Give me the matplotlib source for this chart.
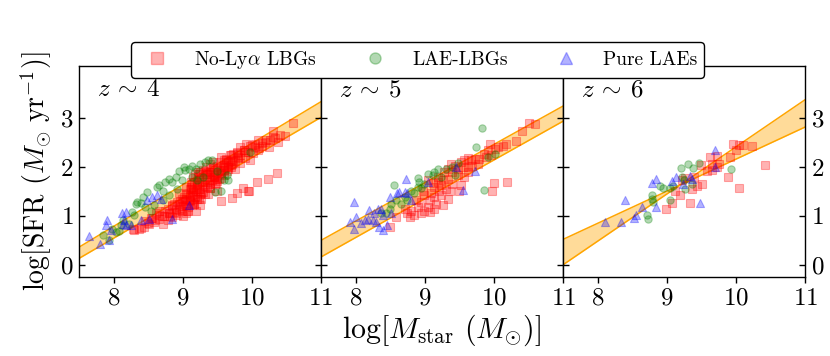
import matplotlib
matplotlib.use("Agg")
import matplotlib.pyplot as plt
import numpy as np
from matplotlib.lines import Line2D

plt.rcParams['font.family'] = ['cmr10', 'DejaVu Serif']
plt.rcParams['mathtext.fontset'] = 'cm'
plt.rcParams['axes.formatter.use_mathtext'] = True

# ---------------- data ----------------
panel_labels = [r"$z\:\sim\:4$", r"$z\:\sim\:5$", r"$z\:\sim\:6$"]
legend_labels = [r"No-Ly$\alpha$ LBGs", "LAE-LBGs", "Pure LAEs"]
x_ticks = [8, 9, 10, 11]
y_ticks = [0, 1, 2, 3]

band_x = [7.5, 11.0]
z4_band_a = [0.36, 3.34]
z4_band_b = [0.13, 3.02]
z5_band_a = [0.50, 3.25]
z5_band_b = [0.16, 2.94]
z6_band_a = [0.52, 2.82]
z6_band_b = [0.00, 3.38]

# z~4
z4_red_x = [8.30, 8.37, 8.44, 8.51, 8.58, 8.66, 8.73, 8.80, 8.87, 8.95, 8.71, 8.78, 8.85, 8.92, 8.99,
            9.04, 9.09, 9.14, 9.19, 9.21, 9.24, 9.24, 9.07, 8.99, 8.92, 8.85, 8.78, 8.61, 8.54, 8.46,
            9.14, 9.19, 9.12, 9.16, 9.04, 9.21, 8.95, 8.66, 9.04, 8.28, 8.40,
            10.59, 10.31, 10.41, 10.48, 10.33, 10.38, 10.26, 10.19, 10.09, 10.14, 10.04, 10.25, 9.97, 9.92,
            9.83, 9.88, 9.95, 10.02, 10.09, 9.78, 9.73, 9.68, 9.83, 9.90, 9.97, 9.63, 9.59, 9.54, 9.76,
            9.83, 9.71, 9.49, 9.44, 9.39, 9.59, 9.66, 9.76, 9.54, 9.39, 9.32, 9.25, 9.18, 9.47, 9.35,
            9.27, 9.20, 9.13, 9.42, 9.52, 9.32, 9.23, 9.15, 9.39, 9.27, 9.18, 9.11, 9.25, 9.15, 9.49,
            9.47, 9.59, 10.37, 10.24, 10.08, 9.87, 9.95, 9.79, 9.71, 9.55, 9.96,
            9.05, 9.10, 9.20, 9.30, 9.35, 9.45, 9.50, 9.55, 9.60, 9.65, 9.00, 9.10, 9.25, 9.35, 9.40,
            9.30, 9.40, 9.50, 9.60, 9.70, 9.15, 9.22, 9.28, 9.33, 9.45, 9.02, 9.08, 8.97, 9.12, 9.38,
            9.44, 9.56, 9.62, 9.70, 9.80, 9.88, 10.00, 10.10, 10.20, 9.36, 9.26, 9.17, 9.06, 8.90, 8.82,
            8.50, 8.60, 8.70, 8.80, 8.90, 8.55, 8.65, 8.75, 8.85, 8.95, 9.00, 9.05, 9.10, 9.15, 9.20,
            9.25, 9.30, 9.35, 9.40, 9.45, 9.50, 9.55, 9.60, 9.65, 9.70, 9.00, 9.08, 9.16, 9.24, 9.32,
            9.40, 9.48, 9.56, 9.64, 9.72, 9.80, 9.12, 9.22, 9.34, 9.46, 9.58, 9.68, 9.78, 9.90, 10.05,
            10.15, 10.30, 8.88, 8.96, 9.03]
z4_red_y = [0.71, 0.74, 0.77, 0.83, 0.88, 0.94, 0.99, 1.05, 1.08, 1.13, 0.84, 0.91, 0.98, 1.01, 1.11,
            1.22, 1.32, 1.42, 1.52, 1.63, 1.73, 1.86, 1.46, 1.35, 1.28, 1.22, 1.15, 1.05, 0.96, 0.90,
            1.22, 1.11, 1.56, 1.69, 1.59, 1.35, 1.46, 1.11, 1.05, 0.73, 0.75,
            2.90, 2.74, 2.65, 2.63, 2.60, 2.51, 2.56, 2.51, 2.56, 2.44, 2.41, 2.41, 2.44, 2.48,
            2.41, 2.34, 2.31, 2.29, 2.34, 2.31, 2.27, 2.24, 2.24, 2.19, 2.14, 2.17, 2.14, 2.10, 2.14,
            2.08, 2.06, 2.03, 2.00, 2.07, 2.00, 1.97, 1.97, 1.93, 1.90, 1.93, 1.90, 1.86, 1.83, 1.80,
            1.76, 1.69, 1.66, 1.73, 1.76, 1.63, 1.56, 1.52, 1.58, 1.46, 1.39, 1.32, 1.22, 1.28, 1.52,
            1.66, 1.83, 1.88, 1.75, 1.69, 1.58, 1.51, 1.46, 1.37, 1.31, 1.51,
            1.45, 1.55, 1.60, 1.70, 1.85, 1.80, 1.95, 1.88, 2.05, 2.10, 1.30, 1.40, 1.45, 1.60, 1.75,
            1.95, 1.85, 1.75, 1.95, 2.00, 1.80, 1.90, 1.65, 2.00, 1.90, 1.38, 1.18, 1.20, 1.70, 1.90,
            2.10, 2.20, 2.15, 2.25, 2.20, 2.35, 2.45, 2.40, 2.55, 1.45, 1.35, 1.25, 1.10, 1.05, 1.00,
            0.85, 0.92, 1.00, 1.05, 1.15, 0.95, 1.02, 1.10, 1.20, 1.25, 1.20, 1.35, 1.30, 1.50, 1.40,
            1.55, 1.50, 1.70, 1.65, 1.80, 1.72, 1.85, 1.95, 2.00, 2.05, 1.00, 1.10, 1.25, 1.35, 1.45,
            1.58, 1.68, 1.78, 1.92, 2.12, 2.18, 1.60, 1.80, 1.88, 1.98, 2.02, 2.12, 2.28, 2.30, 2.48,
            2.50, 2.62, 1.25, 1.30, 1.28]
z4_green_x = [9.02, 9.09, 8.95, 8.90, 8.80, 8.85, 8.75, 8.66, 8.63, 8.71, 8.49, 8.42, 8.34, 8.32, 8.39,
              8.46, 8.54, 8.27, 8.30, 8.13, 8.10, 7.98, 8.03, 8.08, 7.93, 7.84, 8.22, 8.58, 8.71, 8.80,
              8.92, 8.99, 9.14, 9.19, 9.13, 9.32, 9.25, 9.37, 9.42, 9.49, 9.59, 9.56, 9.47, 9.66, 9.64,
              9.30, 9.20, 9.97, 9.03]
z4_green_y = [2.00, 1.97, 1.93, 1.79, 1.76, 1.69, 1.69, 1.63, 1.59, 1.52, 1.49, 1.39, 1.28, 1.25, 1.26,
              1.18, 1.11, 1.08, 1.01, 0.92, 0.81, 0.74, 0.67, 0.70, 0.50, 0.60, 0.84, 1.22, 1.32, 1.42,
              1.56, 1.73, 1.79, 1.97, 2.03, 2.10, 2.07, 2.14, 2.15, 1.93, 1.73, 1.52, 1.49, 1.74, 1.83,
              1.80, 1.73, 2.31, 1.95]
z4_blue_x = [7.64, 7.81, 7.93, 7.91, 7.89, 7.96, 8.12, 8.18, 8.15, 8.13, 8.18, 8.39, 8.49, 8.56, 8.63,
             8.68, 8.51, 8.84, 9.09, 8.25]
z4_blue_y = [0.58, 0.43, 0.50, 0.92, 0.82, 0.71, 1.05, 1.09, 0.92, 0.84, 0.81, 0.91, 1.32, 1.39, 1.42,
             1.35, 0.94, 0.94, 1.22, 0.81]

# z~5
z5_red_x = [10.51, 10.59, 10.40, 10.32, 10.18, 10.13, 10.06, 9.95, 10.01, 9.91, 9.86, 9.96, 9.89, 9.79,
            9.72, 9.67, 9.62, 9.57, 9.77, 9.69, 9.62, 9.55, 9.48, 9.38, 9.43, 9.33, 9.40, 9.28, 9.57,
            9.48, 9.33, 9.26, 9.19, 9.04, 9.24, 9.14, 9.31, 9.21, 9.09, 8.99, 9.14, 9.24, 9.33, 9.07,
            9.16, 9.26, 8.95, 9.04, 9.14, 8.99, 8.90, 8.80, 8.75, 8.85, 8.71, 8.78, 8.95, 9.07, 9.50,
            10.00, 10.19, 9.97, 8.59, 8.49, 9.40, 9.53, 9.62, 9.53, 9.36, 9.19, 9.12, 8.97, 8.87]
z5_red_y = [2.90, 2.89, 2.73, 2.53, 2.48, 2.44, 2.41, 2.48, 2.38, 2.34, 2.27, 2.24, 2.21, 2.17,
            2.17, 2.14, 2.19, 2.14, 2.07, 2.03, 2.00, 2.00, 1.97, 2.07, 2.03, 1.97, 1.90, 1.90, 1.80,
            1.83, 1.76, 1.73, 1.69, 1.73, 1.63, 1.59, 1.56, 1.52, 1.46, 1.42, 1.39, 1.42, 1.35, 1.32,
            1.25, 1.22, 1.28, 1.18, 1.15, 1.11, 1.18, 1.11, 1.05, 1.01, 1.15, 0.98, 1.05, 1.08, 1.52,
            1.68, 1.69, 1.52, 0.98, 0.77, 1.66, 1.63, 1.90, 2.10, 1.52, 1.80, 1.67, 1.52, 1.32]
z5_green_x = [9.83, 9.74, 9.86, 10.01, 9.19, 9.14, 9.04, 9.12, 8.90, 8.92, 8.90, 8.95, 8.80, 8.85, 8.55,
              8.58, 8.66, 8.51, 8.49, 8.44, 8.37, 8.75, 9.31, 9.48, 9.40, 9.24, 9.43, 9.91, 8.71, 8.99]
z5_green_y = [2.80, 2.41, 1.54, 2.27, 1.97, 1.90, 1.86, 1.83, 1.78, 1.69, 1.59, 1.58, 1.52, 1.47, 1.64,
              1.32, 1.25, 1.25, 1.15, 1.05, 1.05, 1.32, 1.97, 2.09, 2.00, 1.80, 1.83, 2.21, 1.39, 1.66]
z5_blue_x = [7.97, 8.01, 7.92, 7.98, 8.20, 8.32, 8.37, 8.27, 8.13, 8.08, 8.18, 8.25, 8.30, 8.34, 8.40,
             8.46, 8.50, 8.60, 8.63, 8.73, 8.71, 8.75, 8.80, 9.55, 9.45, 9.72, 9.04, 8.39, 8.51]
z5_blue_y = [1.28, 0.98, 0.88, 0.74, 1.13, 1.15, 1.15, 1.05, 0.91, 0.86, 0.94, 0.92, 0.88, 0.77, 0.71,
             0.81, 1.39, 1.46, 1.49, 1.75, 1.49, 1.46, 1.32, 1.54, 2.00, 1.93, 1.69, 1.01, 1.05]

# z~6
z6_red_x = [9.96, 10.05, 10.10, 10.23, 10.00, 9.63, 9.73, 9.92, 9.49, 9.66, 9.75, 10.42, 9.65, 9.58,
            9.72, 9.88, 9.40, 9.27, 9.22, 9.51, 9.44, 9.37, 10.04, 9.12, 9.19, 9.07, 9.33, 8.99]
z6_red_y = [2.48, 2.45, 2.45, 2.43, 2.36, 2.20, 2.23, 2.21, 2.05, 2.06, 2.06, 2.05, 1.95, 1.91,
            2.00, 1.80, 1.80, 1.78, 1.73, 1.66, 1.61, 1.56, 1.58, 1.52, 1.43, 1.27, 1.26, 1.14]
z6_green_x = [9.20, 9.30, 9.38, 9.47, 9.93, 9.25, 9.36, 8.90, 8.95, 9.04, 9.09, 9.26, 8.78, 8.79, 8.80,
              9.04, 8.72, 8.73, 9.22]
z6_green_y = [1.98, 2.06, 1.99, 2.09, 1.97, 1.73, 1.66, 1.61, 1.58, 1.58, 1.61, 1.56, 1.43, 1.34, 1.28,
              1.33, 1.01, 0.94, 1.80]
z6_blue_x = [9.70, 9.69, 8.78, 8.84, 9.08, 9.14, 9.33, 9.37, 9.24, 8.40, 8.64, 8.85, 9.48, 8.55, 8.53,
             8.11, 8.34]
z6_blue_y = [2.36, 2.01, 1.67, 1.76, 1.71, 1.80, 1.81, 1.75, 1.66, 1.32, 1.18, 1.18, 1.27, 1.01, 0.96,
             0.88, 0.87]

panels = [
    (z4_red_x, z4_red_y, z4_green_x, z4_green_y, z4_blue_x, z4_blue_y, z4_band_a, z4_band_b),
    (z5_red_x, z5_red_y, z5_green_x, z5_green_y, z5_blue_x, z5_blue_y, z5_band_a, z5_band_b),
    (z6_red_x, z6_red_y, z6_green_x, z6_green_y, z6_blue_x, z6_blue_y, z6_band_a, z6_band_b),
]

# ---------------- plot ----------------
fig, axes = plt.subplots(1, 3, figsize=(8.3, 3.56), dpi=100, sharey=True)
fig.subplots_adjust(left=0.0952, right=0.970, bottom=0.222, top=0.8146, wspace=0)

ms = 28
for i, (ax, p) in enumerate(zip(axes, panels)):
    rx, ry, gx, gy, bx, by, ba, bb = p
    ax.fill_between(band_x, ba, bb, color='orange', alpha=0.4, lw=0, zorder=1)
    ax.plot(band_x, ba, color='orange', lw=1.1, zorder=1.5)
    ax.plot(band_x, bb, color='orange', lw=1.1, zorder=1.5)
    ax.scatter(rx, ry, marker='s', s=ms, color='red', alpha=0.3, lw=0.8, zorder=2)
    ax.scatter(gx, gy, marker='o', s=ms, color='green', alpha=0.3, lw=0.8, zorder=3)
    ax.scatter(bx, by, marker='^', s=ms + 6, color='blue', alpha=0.3, lw=0.8, zorder=4)
    ax.set_xlim(7.5, 11)
    ax.set_ylim(-0.25, 4.07)
    ax.set_xticks(x_ticks)
    ax.set_yticks(y_ticks)
    ax.tick_params(axis='x', direction='out', labelsize=18, length=4.5, width=1, pad=3)
    ax.tick_params(axis='y', direction='in', left=True, right=True, labelsize=18, length=4.5, width=1,
                   labelleft=(i == 0), labelright=(i == 2), pad=4)
    ax.text(0.075, 0.885, panel_labels[i], transform=ax.transAxes, fontsize=18, va='center', ha='left')
    for sp in ax.spines.values():
        sp.set_linewidth(1.0)

axes[0].set_ylabel(r"log[SFR $(M_{\odot}\ \mathrm{yr}^{-1})$]", fontsize=20, labelpad=4)
axes[1].set_xlabel(r"log[$M_{\mathrm{star}}$ $(M_{\odot})$]", fontsize=21.5, labelpad=2)

handles = [
    Line2D([], [], ls='none', marker='s', ms=8, color='red', alpha=0.3),
    Line2D([], [], ls='none', marker='o', ms=8, color='green', alpha=0.3),
    Line2D([], [], ls='none', marker='^', ms=8.5, color='blue', alpha=0.3),
]
leg = fig.legend(handles, legend_labels, loc='upper center', bbox_to_anchor=(0.503, 0.909), ncol=3,
                 fontsize=14, frameon=True, fancybox=True, edgecolor='black', framealpha=1,
                 columnspacing=2.0, handletextpad=0.9, borderpad=0.35)
leg.get_frame().set_linewidth(1.0)
leg.set_zorder(10)

fig.savefig("out.png", dpi=100)
